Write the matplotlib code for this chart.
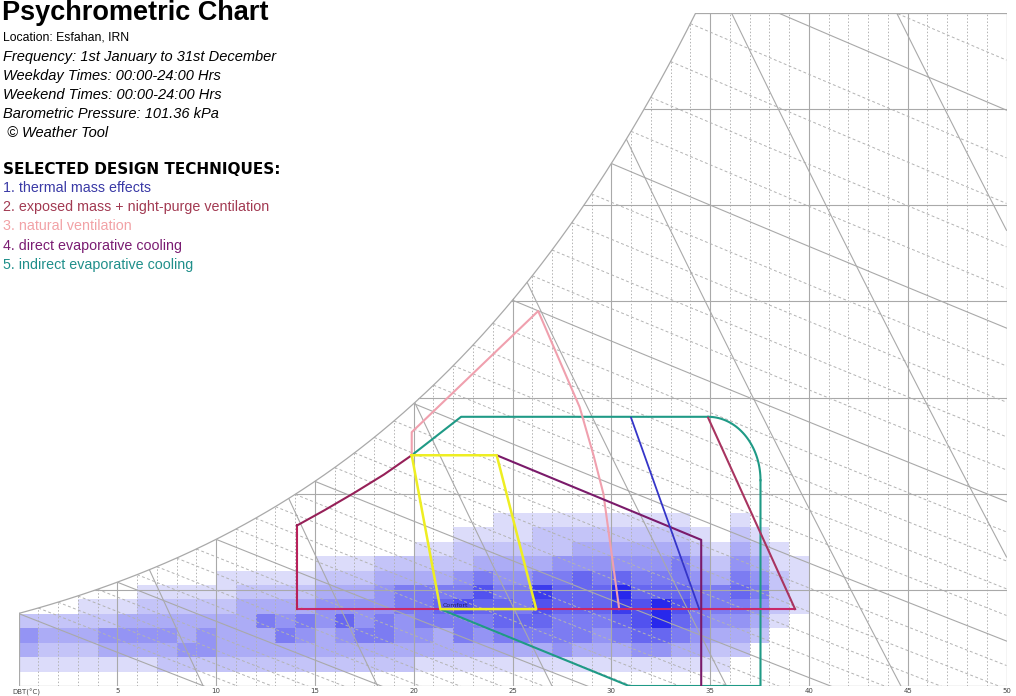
import numpy as np
import matplotlib
matplotlib.use("Agg")
import matplotlib.pyplot as plt
from matplotlib.patches import Polygon
from matplotlib.colors import LinearSegmentedColormap

# barometric pressure (kPa)
P = 101.36

# frequency levels: one list per 1 degC column (0-1, 1-2, ... 39-40),
# rows of 0.75 g/kg starting from 0 g/kg
ROW_H = 0.75
hist_levels = [
    [0, 1, 3, 4, 2],
    [0, 1, 2, 3, 2],
    [0, 1, 2, 3, 2],
    [0, 1, 2, 3, 2, 1],
    [0, 1, 3, 4, 2, 1],
    [0, 1, 3, 4, 3, 1],
    [0, 1, 3, 4, 3, 2, 1],
    [0, 2, 3, 4, 3, 2, 1],
    [0, 2, 4, 3, 3, 2, 1],
    [0, 2, 4, 4, 3, 2, 1],
    [0, 2, 3, 3, 3, 2, 1, 1],
    [0, 2, 3, 3, 3, 3, 2, 1],
    [0, 2, 3, 3, 5, 3, 2, 1],
    [0, 2, 3, 5, 4, 3, 2, 1],
    [0, 2, 3, 4, 5, 3, 2, 1],
    [0, 2, 3, 3, 4, 4, 3, 2, 1],
    [0, 2, 3, 4, 6, 4, 3, 2, 1],
    [0, 2, 3, 5, 4, 4, 3, 2, 1],
    [0, 2, 3, 5, 5, 4, 4, 3, 2],
    [0, 2, 3, 4, 4, 5, 5, 3, 2],
    [0, 1, 3, 4, 5, 5, 5, 3, 2, 1],
    [0, 1, 3, 3, 5, 6, 5, 3, 2, 1],
    [0, 1, 3, 5, 5, 7, 5, 4, 2, 2, 1],
    [0, 1, 3, 4, 5, 6, 7, 5, 3, 2, 1],
    [0, 1, 3, 5, 6, 6, 5, 4, 3, 2, 1, 1],
    [0, 1, 3, 5, 6, 5, 5, 4, 3, 2, 1, 1],
    [0, 1, 3, 5, 6, 7, 8, 5, 3, 2, 2, 1],
    [0, 1, 4, 5, 5, 6, 6, 5, 4, 2, 2, 1],
    [0, 1, 3, 5, 5, 6, 6, 6, 4, 3, 2, 1],
    [0, 1, 3, 4, 5, 6, 6, 5, 4, 3, 2, 1],
    [0, 1, 3, 5, 6, 8, 9, 6, 4, 3, 2, 1],
    [0, 1, 4, 6, 7, 7, 6, 5, 4, 3, 2, 1],
    [0, 1, 4, 6, 9, 9, 6, 5, 4, 3, 2, 1],
    [0, 1, 3, 5, 6, 7, 6, 5, 5, 3, 2, 1],
    [0, 1, 3, 4, 5, 5, 5, 4, 3, 2, 1],
    [0, 1, 2, 3, 4, 5, 5, 3, 2, 1],
    [0, 0, 2, 3, 4, 5, 6, 5, 4, 3, 2, 1],
    [0, 0, 0, 2, 3, 4, 5, 4, 3, 2, 1],
    [0, 0, 0, 0, 1, 2, 2, 2, 1, 1],
    [0, 0, 0, 0, 0, 1, 1, 1, 1],
]

# design technique boundaries (DBT degC, g/kg)
comfort_t = [19.9, 24.2, 26.2, 21.35, 19.9]
comfort_w = [12.0, 12.0, 4.0, 4.0, 12.0]
thermal_mass_t = [31.0, 34.45]
thermal_mass_w = [13.95, 4.0]
night_purge_t = [34.9, 39.3]
night_purge_w = [13.95, 4.0]
base_t = [14.1, 39.3]
base_w = [4.0, 4.0]
evap_left_t = [14.1, 14.1]
evap_left_w = [4.0, 8.35]
evap_curve_t = [14.1, 15.5, 17.0, 18.5, 19.9]
evap_curve_w = [8.35, 9.15, 10.05, 11.0, 12.0]
direct_evap_t = [24.2, 34.55, 34.55]
direct_evap_w = [12.0, 7.6, 0.0]
nat_vent_t = [19.9, 19.9, 26.3, 28.4, 29.1, 29.6, 30.4]
nat_vent_w = [12.0, 13.2, 19.5, 14.5, 12.0, 10.0, 4.0]
indirect_t = [19.9, 22.4, 34.9]
indirect_w = [12.0, 14.0, 14.0]
indirect_right_t = [37.55, 37.55, 30.9, 21.35]
indirect_right_w = [10.7, 0.0, 0.0, 4.0]

xtick_vals = [5, 10, 15, 20, 25, 30, 35, 40, 45, 50]
volumes = [0.80, 0.825, 0.85, 0.875, 0.90, 0.925, 0.95]


def sat_w(t):
    pws = 0.61078 * np.exp(17.27 * t / (t + 237.3))
    return 622.0 * pws / (P - pws)


def wetbulb_w(t, twb):
    ws = sat_w(twb) / 1000.0
    w = ((2501 - 2.326 * twb) * ws - 1.006 * (t - twb)) / (2501 + 1.86 * t - 4.186 * twb)
    return w * 1000.0


def volume_w(t, v):
    return (v * P / (0.287042 * (t + 273.15)) - 1) / 1.6078 * 1000.0


fig = plt.figure(figsize=(10.16, 6.96), dpi=100)
ax = fig.add_axes([18.5 / 1016, 10 / 696, 988 / 1016, 673 / 696])
ax.set_xlim(0, 50)
ax.set_ylim(0, 35)
ax.set_axis_off()

# chart region under the saturation curve
tt = np.linspace(0, 50, 1001)
ws_curve = sat_w(tt)
t35 = np.interp(35, ws_curve, tt)
tc = np.linspace(0, t35, 300)
region = np.vstack([np.column_stack([tc, sat_w(tc)]), [[50, 35], [50, 0], [0, 0]]])
clip = Polygon(region, closed=True, facecolor="none", edgecolor="none")
ax.add_patch(clip)

GRID = "#a9a9a9"
LIGHT = "#b3b3b3"

# frequency histogram
nrows = max(len(c) for c in hist_levels)
grid = np.zeros((nrows, len(hist_levels)))
for i, col in enumerate(hist_levels):
    grid[:len(col), i] = col
grid = np.ma.masked_equal(grid, 0)
cmap = LinearSegmentedColormap.from_list("freq", ["#dcdcfa", "#7c7cf2", "#2828ec"])
mesh = ax.pcolormesh(np.arange(len(hist_levels) + 1), np.arange(nrows + 1) * ROW_H, grid,
                     cmap=cmap, vmin=1, vmax=9, shading="flat", zorder=1)
mesh.set_clip_path(clip)

lines = []
# dry bulb lines
for t in range(1, 50):
    if t % 5 == 0:
        lines += ax.plot([t, t], [0, 35], color=GRID, lw=0.8, zorder=2)
    else:
        lines += ax.plot([t, t], [0, 35], color=LIGHT, lw=0.7, ls=(0, (1.5, 2)), zorder=2)
# humidity lines
for w in range(5, 35, 5):
    lines += ax.plot([0, 50], [w, w], color=GRID, lw=0.8, zorder=2)
# wet bulb lines
for twb in range(0, 37):
    tw = np.linspace(twb, 50, 200)
    if twb % 5 == 0:
        lines += ax.plot(tw, wetbulb_w(tw, twb), color=GRID, lw=0.8, zorder=2)
    else:
        lines += ax.plot(tw, wetbulb_w(tw, twb), color=LIGHT, lw=0.7, ls=(0, (3, 2.5)), zorder=2)
# specific volume lines
for v in volumes:
    lines += ax.plot(tt, volume_w(tt, v), color=GRID, lw=0.8, zorder=2)
for ln in lines:
    ln.set_clip_path(clip)

# outline
ax.plot(tc, sat_w(tc), color=GRID, lw=0.9, zorder=3)
ax.plot([t35, 50, 50, 0, 0], [35, 35, 0, 0, sat_w(0)], color=GRID, lw=0.9, zorder=3)

# design techniques
ax.plot(indirect_right_t, indirect_right_w, color="#1f9a86", lw=1.5, zorder=5)
ax.plot(indirect_t, indirect_w, color="#1f9a86", lw=1.5, zorder=5)
ang = np.linspace(np.pi / 2, 0, 40)
ax.plot(34.9 + 2.65 * np.cos(ang), 10.7 + 3.3 * np.sin(ang), color="#1f9a86", lw=1.5, zorder=5)
ax.plot(nat_vent_t, nat_vent_w, color="#f0a0ae", lw=1.5, zorder=5)
ax.plot(base_t, base_w, color="#c8286a", lw=1.5, zorder=6)
ax.plot(evap_left_t, evap_left_w, color="#b8205a", lw=1.5, zorder=6)
ax.plot(evap_curve_t, evap_curve_w, color="#962058", lw=1.5, zorder=6)
ax.plot(direct_evap_t, direct_evap_w, color="#7a1a6a", lw=1.5, zorder=6)
ax.plot(night_purge_t, night_purge_w, color="#a83460", lw=1.5, zorder=6)
ax.plot(thermal_mass_t, thermal_mass_w, color="#3535c8", lw=1.3, zorder=6)
ax.plot(comfort_t, comfort_w, color="#eeee22", lw=1.8, zorder=7)
ax.text(21.45, 4.08, "Comfort", fontsize=4.5, color="#202060", ha="left", va="bottom", zorder=8)

# axis labels
for t in xtick_vals:
    ax.text(t, -0.12, str(t), fontsize=5, color="#444444", ha="center", va="top", clip_on=False)
ax.text(-0.3, -0.12, "DBT(°C)", fontsize=5, color="#444444", ha="left", va="top", clip_on=False)


def px(x, y):
    return x / 1016, 1 - y / 696


fig.text(*px(2, 13), "Psychrometric Chart", fontsize=19.5, fontweight="bold",
         family="Liberation Sans", va="center", ha="left")
fig.text(*px(3, 37), "Location: Esfahan, IRN", fontsize=8.8, family="Liberation Sans", va="center")
info = ["Frequency: 1st January to 31st December",
        "Weekday Times: 00:00-24:00 Hrs",
        "Weekend Times: 00:00-24:00 Hrs",
        "Barometric Pressure: 101.36 kPa",
        " © Weather Tool"]
for i, s in enumerate(info):
    fig.text(*px(3, 57 + i * 19.1), s, fontsize=10.5, style="italic",
             family="Liberation Sans", va="center")

fig.text(*px(3, 170), "SELECTED DESIGN TECHNIQUES:", fontsize=11, fontweight="bold",
         family="DejaVu Sans", va="center")
techniques = ["1. thermal mass effects",
              "2. exposed mass + night-purge ventilation",
              "3. natural ventilation",
              "4. direct evaporative cooling",
              "5. indirect evaporative cooling"]
tech_colors = ["#3a3aa6", "#a23a52", "#f2a2a6", "#7a1c72", "#1f8f8a"]
for i, (s, c) in enumerate(zip(techniques, tech_colors)):
    fig.text(*px(3, 188 + i * 19.2), s, fontsize=10.3, color=c, family="Liberation Sans",
             va="center")

fig.savefig("out.png", dpi=100, facecolor="white")
